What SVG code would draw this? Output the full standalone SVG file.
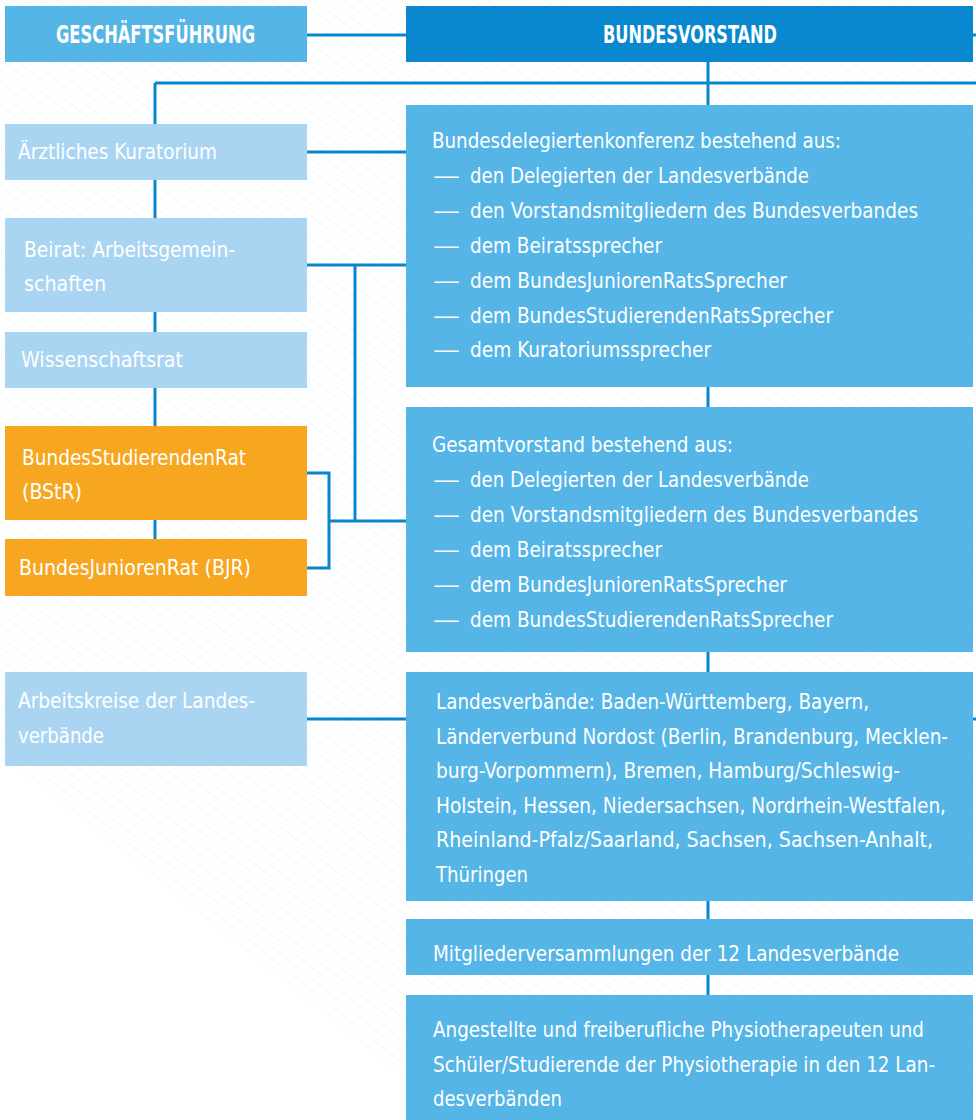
<svg xmlns="http://www.w3.org/2000/svg" width="976" height="1120" viewBox="0 0 976 1120">
<style>
  .t{font-family:"Liberation Sans Narrow","DejaVu Sans Condensed","Roboto Condensed","Liberation Sans",sans-serif;font-size:22px;fill:#ffffff;font-stretch:condensed}
  .s{font-size:20.5px}
  .h{font-family:"Liberation Sans Narrow","DejaVu Sans Condensed","Liberation Sans",sans-serif;font-size:24px;font-weight:bold;fill:#ffffff;font-stretch:condensed}
  .dark{fill:#0a88cf}
  .mid{fill:#55b5e7}
  .light{fill:#a9d5f2}
  .orange{fill:#f7a61f}
  .conn{stroke:#0a86cc;stroke-width:3;fill:none}
</style>
<defs>
  <pattern id="diag" width="9" height="9" patternUnits="userSpaceOnUse" patternTransform="rotate(38.8)">
    <line x1="0" y1="0" x2="9" y2="0" stroke="#e8f3fa" stroke-width="1.2"/>
  </pattern>
  <clipPath id="bgclip"><polygon points="0,0 976,0 976,1120 458,1120 0,752"/></clipPath>
</defs>
<rect x="0" y="0" width="976" height="1120" fill="#ffffff"/>
<rect x="0" y="0" width="976" height="1120" fill="url(#diag)" clip-path="url(#bgclip)"/>

<g id="connectors">
  <path class="conn" d="M307,35 H406"/>
  <path class="conn" d="M973,35 H976"/>
  <path class="conn" d="M708,62 V105"/>
  <path class="conn" d="M155,83 H976"/>
  <path class="conn" d="M155,83 V539"/>
  <path class="conn" d="M307,152 H406"/>
  <path class="conn" d="M307,265 H406"/>
  <path class="conn" d="M355,265 V521"/>
  <path class="conn" d="M329,521 H406"/>
  <path class="conn" d="M307,473 H329 V568 H307"/>
  <path class="conn" d="M708,387 V407"/>
  <path class="conn" d="M708,652 V672"/>
  <path class="conn" d="M708,901 V919"/>
  <path class="conn" d="M708,975 V995"/>
  <path class="conn" d="M307,719 H406"/>
  <path class="conn" d="M973,719 H976"/>
</g>

<g id="geschaeftsfuehrung">
  <rect class="mid" x="5" y="6" width="302" height="56"/>
  <text class="h" x="56" y="43" textLength="199" lengthAdjust="spacingAndGlyphs">GESCHÄFTSFÜHRUNG</text>
</g>
<g id="bundesvorstand">
  <rect class="dark" x="406" y="6" width="567" height="56"/>
  <text class="h" x="603" y="43" textLength="174" lengthAdjust="spacingAndGlyphs">BUNDESVORSTAND</text>
</g>

<g id="kuratorium">
  <rect class="light" x="5" y="124" width="302" height="56"/>
  <text class="t" x="18" y="159" textLength="199" lengthAdjust="spacingAndGlyphs">Ärztliches Kuratorium</text>
</g>
<g id="beirat">
  <rect class="light" x="5" y="218" width="302" height="94"/>
  <text class="t" x="24" y="257" textLength="211" lengthAdjust="spacingAndGlyphs">Beirat: Arbeitsgemein-</text>
  <text class="t" x="24" y="291" textLength="82" lengthAdjust="spacingAndGlyphs">schaften</text>
</g>
<g id="wissenschaftsrat">
  <rect class="light" x="5" y="332" width="302" height="56"/>
  <text class="t" x="21" y="367" textLength="162" lengthAdjust="spacingAndGlyphs">Wissenschaftsrat</text>
</g>
<g id="bstr">
  <rect class="orange" x="5" y="426" width="302" height="94"/>
  <text class="t" x="22" y="465" textLength="224" lengthAdjust="spacingAndGlyphs">BundesStudierendenRat</text>
  <text class="t" x="22" y="499" textLength="60" lengthAdjust="spacingAndGlyphs">(BStR)</text>
</g>
<g id="bjr">
  <rect class="orange" x="5" y="539" width="302" height="57"/>
  <text class="t" x="19" y="575" textLength="232" lengthAdjust="spacingAndGlyphs">BundesJuniorenRat (BJR)</text>
</g>
<g id="arbeitskreise">
  <rect class="light" x="5" y="672" width="302" height="94"/>
  <text class="t" x="18" y="708" textLength="237" lengthAdjust="spacingAndGlyphs">Arbeitskreise der Landes-</text>
  <text class="t" x="18" y="743" textLength="86" lengthAdjust="spacingAndGlyphs">verbände</text>
</g>

<g id="bundesdelegiertenkonferenz">
  <rect class="mid" x="406" y="105" width="567" height="282"/>
  <text class="t" x="432" y="148" textLength="409" lengthAdjust="spacingAndGlyphs">Bundesdelegiertenkonferenz bestehend aus:</text>
  <text class="t" y="183"><tspan x="433" textLength="27" lengthAdjust="spacingAndGlyphs">—</tspan><tspan x="470" textLength="339" lengthAdjust="spacingAndGlyphs">den Delegierten der Landesverbände</tspan></text>
  <text class="t" y="218"><tspan x="433" textLength="27" lengthAdjust="spacingAndGlyphs">—</tspan><tspan x="470" textLength="448" lengthAdjust="spacingAndGlyphs">den Vorstandsmitgliedern des Bundesverbandes</tspan></text>
  <text class="t" y="253"><tspan x="433" textLength="27" lengthAdjust="spacingAndGlyphs">—</tspan><tspan x="470" textLength="192" lengthAdjust="spacingAndGlyphs">dem Beiratssprecher</tspan></text>
  <text class="t" y="288"><tspan x="433" textLength="27" lengthAdjust="spacingAndGlyphs">—</tspan><tspan x="470" textLength="317" lengthAdjust="spacingAndGlyphs">dem BundesJuniorenRatsSprecher</tspan></text>
  <text class="t" y="323"><tspan x="433" textLength="27" lengthAdjust="spacingAndGlyphs">—</tspan><tspan x="470" textLength="363" lengthAdjust="spacingAndGlyphs">dem BundesStudierendenRatsSprecher</tspan></text>
  <text class="t" y="357"><tspan x="433" textLength="27" lengthAdjust="spacingAndGlyphs">—</tspan><tspan x="470" textLength="241" lengthAdjust="spacingAndGlyphs">dem Kuratoriumssprecher</tspan></text>
</g>

<g id="gesamtvorstand">
  <rect class="mid" x="406" y="407" width="567" height="245"/>
  <text class="t" x="432" y="452" textLength="301" lengthAdjust="spacingAndGlyphs">Gesamtvorstand bestehend aus:</text>
  <text class="t" y="487"><tspan x="433" textLength="27" lengthAdjust="spacingAndGlyphs">—</tspan><tspan x="470" textLength="339" lengthAdjust="spacingAndGlyphs">den Delegierten der Landesverbände</tspan></text>
  <text class="t" y="522"><tspan x="433" textLength="27" lengthAdjust="spacingAndGlyphs">—</tspan><tspan x="470" textLength="448" lengthAdjust="spacingAndGlyphs">den Vorstandsmitgliedern des Bundesverbandes</tspan></text>
  <text class="t" y="557"><tspan x="433" textLength="27" lengthAdjust="spacingAndGlyphs">—</tspan><tspan x="470" textLength="192" lengthAdjust="spacingAndGlyphs">dem Beiratssprecher</tspan></text>
  <text class="t" y="592"><tspan x="433" textLength="27" lengthAdjust="spacingAndGlyphs">—</tspan><tspan x="470" textLength="317" lengthAdjust="spacingAndGlyphs">dem BundesJuniorenRatsSprecher</tspan></text>
  <text class="t" y="627"><tspan x="433" textLength="27" lengthAdjust="spacingAndGlyphs">—</tspan><tspan x="470" textLength="363" lengthAdjust="spacingAndGlyphs">dem BundesStudierendenRatsSprecher</tspan></text>
</g>

<g id="landesverbaende">
  <rect class="mid" x="406" y="672" width="567" height="229"/>
  <text class="t s" x="436" y="709" textLength="433" lengthAdjust="spacingAndGlyphs">Landesverbände: Baden-Württemberg, Bayern,</text>
  <text class="t s" x="436" y="744" textLength="512" lengthAdjust="spacingAndGlyphs">Länderverbund Nordost (Berlin, Brandenburg, Mecklen-</text>
  <text class="t s" x="436" y="778" textLength="464" lengthAdjust="spacingAndGlyphs">burg-Vorpommern), Bremen, Hamburg/Schleswig-</text>
  <text class="t s" x="436" y="813" textLength="510" lengthAdjust="spacingAndGlyphs">Holstein, Hessen, Niedersachsen, Nordrhein-Westfalen,</text>
  <text class="t s" x="436" y="847" textLength="497" lengthAdjust="spacingAndGlyphs">Rheinland-Pfalz/Saarland, Sachsen, Sachsen-Anhalt,</text>
  <text class="t s" x="436" y="882" textLength="92" lengthAdjust="spacingAndGlyphs">Thüringen</text>
</g>

<g id="mitgliederversammlungen">
  <rect class="mid" x="406" y="919" width="567" height="56"/>
  <text class="t" x="433" y="961" textLength="466" lengthAdjust="spacingAndGlyphs">Mitgliederversammlungen der 12 Landesverbände</text>
</g>

<g id="angestellte">
  <rect class="mid" x="406" y="995" width="567" height="125"/>
  <text class="t" x="433" y="1037" textLength="491" lengthAdjust="spacingAndGlyphs">Angestellte und freiberufliche Physiotherapeuten und</text>
  <text class="t" x="433" y="1072" textLength="502" lengthAdjust="spacingAndGlyphs">Schüler/Studierende der Physiotherapie in den 12 Lan-</text>
  <text class="t" x="433" y="1106" textLength="129" lengthAdjust="spacingAndGlyphs">desverbänden</text>
</g>
</svg>
